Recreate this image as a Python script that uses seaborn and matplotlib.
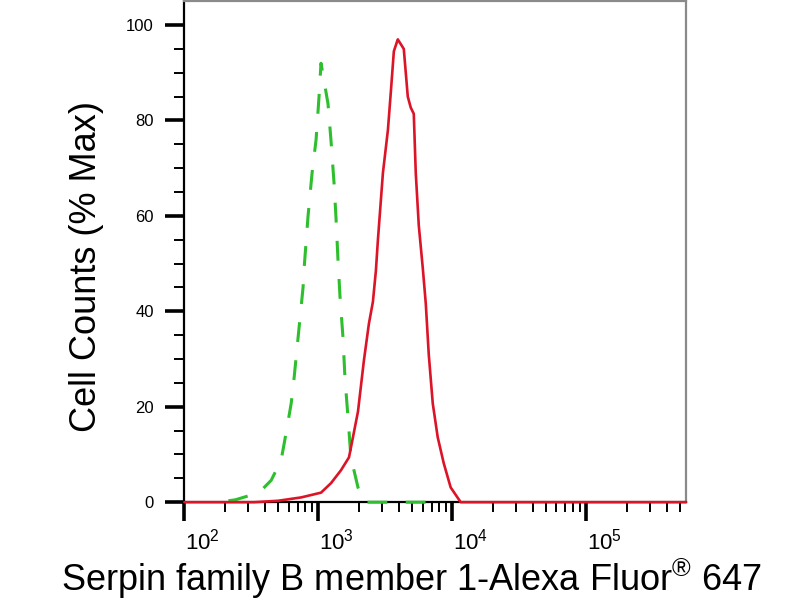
import numpy as np
import pandas as pd
import seaborn as sns
import matplotlib.pyplot as plt
from matplotlib.ticker import FixedLocator, NullFormatter
from matplotlib.transforms import ScaledTranslation

# isotype control (green dashed)
iso_x = [213, 240, 361, 445, 527, 556, 595, 627, 659, 706, 769, 783, 838, 898, 962,
         1012, 1047, 1181, 1244, 1309, 1355, 1403, 1452, 1528, 1581, 1665, 1751,
         1977, 2189, 8200]
iso_y = [0.3, 0.5, 2, 4.6, 8.8, 12.3, 17, 20.7, 26, 34.5, 45, 49, 60, 69, 76,
         85, 92, 83.5, 75.7, 67, 59.6, 50.6, 43, 34.5, 26, 17.8, 9.4,
         3.1, 0, 0]

# antibody stained (red solid)
ab_x = [100, 332, 501, 743, 1047, 1244, 1476, 1694, 1813, 1977, 2189, 2385, 2555,
        2690, 2785, 3035, 3307, 3478, 3663, 3919, 4345, 4654, 4898, 5159, 5339,
        5623, 6026, 6343, 6674, 7150, 7787, 8630, 9727, 11560, 556000]
ab_y = [0, 0, 0.3, 1, 2, 4, 6.7, 9.4, 13.6, 19, 29.7, 37.4, 42,
        48.5, 55, 69, 78, 86, 94.5, 97, 95, 85, 82.7, 81.4, 69,
        58, 49, 41.6, 31, 20.7, 13.6, 8.2, 3.1, 0, 0]

x_major = [1e2, 1e3, 1e4, 1e5]
x_major_labels = [r"$\mathregular{10^{2}}$", r"$\mathregular{10^{3}}$",
                  r"$\mathregular{10^{4}}$", r"$\mathregular{10^{5}}$"]
y_major = [0, 20, 40, 60, 80, 100]

sns.set_style("white")
plt.rcParams['font.family'] = ['Liberation Sans', 'DejaVu Sans']
plt.rcParams['mathtext.fontset'] = 'custom'
plt.rcParams['mathtext.rm'] = 'Liberation Sans'
for key in ['text.color', 'axes.labelcolor', 'xtick.color', 'ytick.color']:
    plt.rcParams[key] = 'black'

fig = plt.figure(figsize=(8, 6), dpi=100)
ax = fig.add_axes([0.2305, 0.163, 0.627, 0.835])

iso = pd.DataFrame({"x": iso_x, "y": iso_y})
ab = pd.DataFrame({"x": ab_x, "y": ab_y})

sns.lineplot(data=iso, x="x", y="y", ax=ax, color="#2dbf2d", linewidth=2.2,
             clip_on=False, zorder=4)
ax.lines[-1].set_dashes([6.5, 6])
sns.lineplot(data=ab, x="x", y="y", ax=ax, color="#dc1428", linewidth=1.9,
             clip_on=False, zorder=5)

ax.set_xscale("log")
ax.set_xlim(100, 556000)
ax.set_ylim(0, 105)

ax.xaxis.set_major_locator(FixedLocator(x_major))
ax.set_xticklabels(x_major_labels)
minors = [m * d for d in [1e2, 1e3, 1e4, 1e5] for m in range(2, 10) if m * d < 556000]
ax.xaxis.set_minor_locator(FixedLocator(minors))
ax.xaxis.set_minor_formatter(NullFormatter())
ax.set_yticks(y_major)
ax.yaxis.set_minor_locator(FixedLocator(np.arange(5, 105, 5)))

ax.tick_params(axis="both", which="major", direction="out", length=14, width=2.6,
               color="black", labelsize=12, bottom=True, left=True)
ax.tick_params(axis="both", which="minor", direction="out", length=7, width=1.4,
               color="black", bottom=True, left=True)
ax.tick_params(axis="x", which="major", pad=5, labelsize=16)
ax.tick_params(axis="y", which="major", pad=8)

for lab in ax.get_xticklabels():
    lab.set_transform(lab.get_transform() + ScaledTranslation(18 / 100, 0, fig.dpi_scale_trans))

for side in ["top", "right"]:
    ax.spines[side].set_color("#8a8a8a")
    ax.spines[side].set_linewidth(1.6)
for side in ["left", "bottom"]:
    ax.spines[side].set_color("black")
    ax.spines[side].set_linewidth(1.6)

ax.set_ylabel("Cell Counts (% Max)", fontsize=26)
ax.yaxis.set_label_coords(-0.161, 0.47)
ax.set_xlabel(r"Serpin family B member 1-Alexa Fluor$\mathregular{^{®}}$ 647",
              fontsize=26)
ax.xaxis.set_label_coords(0.453, -0.109)

plt.savefig("out.png", dpi=100)
